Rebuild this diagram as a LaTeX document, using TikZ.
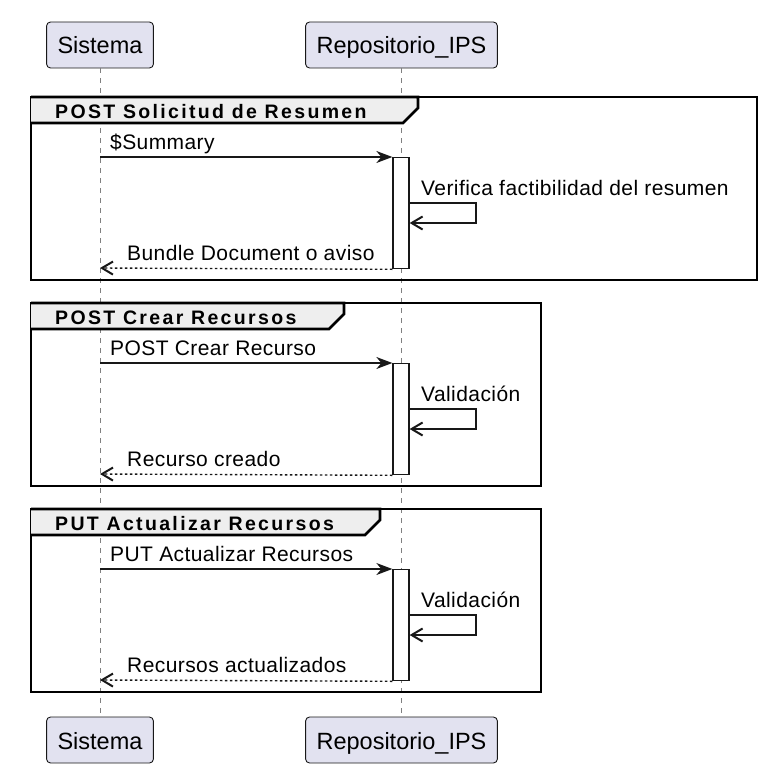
\documentclass[tikz,border=0pt]{standalone}
\usepackage{fontspec}
\setmainfont{Liberation Sans}
\newfontfamily\msgfont[LetterSpace=2]{Liberation Sans}
\newfontfamily\titlefont[LetterSpace=12]{Liberation Sans}
\usepackage{xcolor}
\usepackage{tikz}
\usetikzlibrary{arrows.meta}
\definecolor{partfill}{HTML}{E2E2F0}
\definecolor{linecol}{HTML}{181818}
\definecolor{tabfill}{HTML}{EEEEEE}

\begin{document}
\begin{tikzpicture}[x=1pt,y=-1pt]
			\tikzstyle{participant} = [draw=linecol, fill=partfill, rounded corners=4pt, line width=0.9pt, inner xsep=11pt, minimum height=46pt, text height=18pt, text depth=0pt, font=\fontsize{23.5pt}{26pt}\selectfont]
			\tikzstyle{activation} = [draw=linecol, fill=white, line width=1.3pt, minimum width=16pt, minimum height=111pt, inner sep=0pt, anchor=north]
			\tikzstyle{msglabel} = [anchor=base west, inner sep=0pt, font=\msgfont\fontsize{21pt}{24pt}\selectfont]
			\tikzstyle{grouptitle} = [anchor=base west, inner sep=0pt, font=\titlefont\bfseries\fontsize{19.5pt}{22pt}\selectfont]
			\tikzset{lifeline/.style = {draw=black!50, line width=1pt, dash pattern=on 5pt off 5pt}}
			\tikzset{groupframe/.style = {draw=black, line width=2.6pt}}
			\tikzset{edge/.style = {draw=linecol, line width=1.4pt, -{Stealth[length=16pt,width=12pt,inset=5pt]}}}
			\tikzset{selfedge/.style = {draw=linecol, line width=1.4pt, -{Straight Barb[length=11pt,width=13pt,line width=2pt]}}}
			\tikzset{reply/.style = {selfedge, dash pattern=on 2.5pt off 2.5pt}}
			
			\useasboundingbox (0,0) rectangle (770,773);
			
			\node[participant](sisTop) at (100,45) {Sistema};
			\node[participant](repoTop) at (401.5,45) {Repositorio\_IPS};
			\node[participant](sisBot) at (100,740) {Sistema};
			\node[participant](repoBot) at (401.5,740) {Repositorio\_IPS};
			\draw[lifeline](sisTop) -- (sisBot);
			\draw[lifeline](repoTop) -- (repoBot);
			
			% one block per request
			\foreach \T/\tabend/\frameend/\heading/\msg/\selfmsg/\answer [count=\i] in {
				97/418/757/{POST Solicitud de Resumen}/{\$Summary}/{Verifica factibilidad del resumen}/{Bundle Document o aviso},
				303/344/541/{POST Crear Recursos}/{POST Crear Recurso}/{Validación}/{Recurso creado},
				509/380/541/{PUT Actualizar Recursos}/{PUT Actualizar Recursos}/{Validación}/{Recursos actualizados}} {
				\draw[groupframe] (31,\T) rectangle (\frameend,\T+183);
				\filldraw[groupframe, fill=tabfill] (31,\T) -- (\tabend,\T) -- (\tabend,\T+11) -- (\tabend-15,\T+26) -- (31,\T+26);
				\node[grouptitle](title\i) at (55,\T+21) {\heading};
				
				\node[activation](act\i) at (401,\T+60) {};
				\coordinate (send\i) at (100,\T+60);
				\draw[edge](send\i) to (act\i.north west);
				\node[msglabel](call\i) at (110,\T+52) {\msg};
				
				\coordinate (turn\i) at (476,\T+106);
				\coordinate (back\i) at (476,\T+126);
				\draw[selfedge](act\i.east |- turn\i) -- (turn\i) -- (back\i) -- (act\i.east |- back\i);
				\node[msglabel](check\i) at (421,\T+98) {\selfmsg};
				
				\coordinate (recv\i) at (100,\T+171);
				\draw[reply](act\i.south west) to (recv\i);
				\node[msglabel](answer\i) at (127,\T+163) {\answer};
			}
			
			\end{tikzpicture}
\end{document}
